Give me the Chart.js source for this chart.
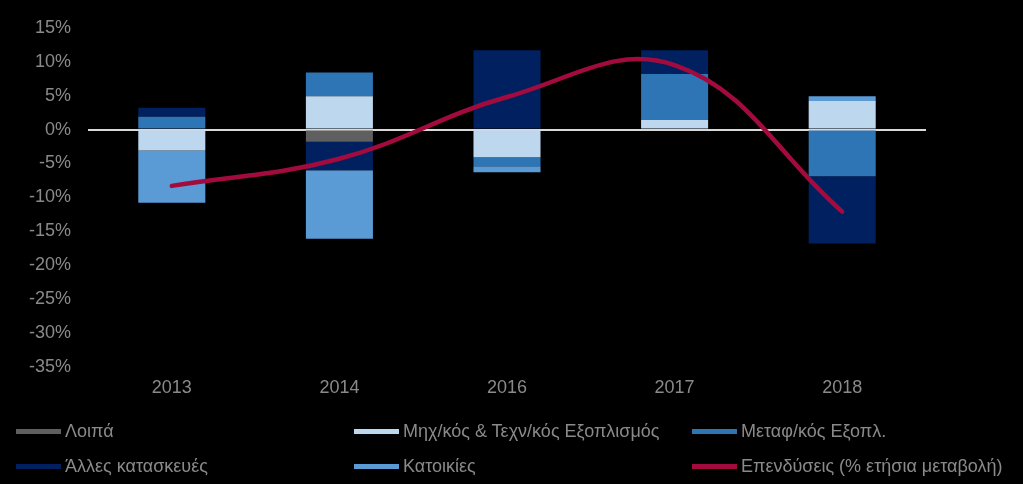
<!DOCTYPE html>
<html lang="el">
<head>
<meta charset="utf-8">
<script src="https://cdn.jsdelivr.net/npm/chart.js@4.4.1/dist/chart.umd.min.js"></script>
<style>
  html, body { margin: 0; padding: 0; background: #000; }
  #wrap { position: relative; width: 1023px; height: 484px; background: #000; overflow: hidden; }
  #grafico { position: absolute; left: 0; top: 0; }
  #legenda { position: absolute; left: 0; top: 0; width: 1023px; height: 484px; pointer-events: none; }
  .item { position: absolute; display: flex; align-items: center; height: 24px;
          font-family: "Liberation Sans", Arial, sans-serif; font-size: 18px; color: #8a8a8a; white-space: nowrap; }
  .item span.cx { display: inline-block; width: 45px; height: 5px; margin-right: 4px; }
</style>
</head>
<body>
<div id="wrap">
  <canvas id="grafico" width="1023" height="410"></canvas>
  <div id="legenda"></div>
</div>
<script>
const anos = ["2013", "2014", "2016", "2017", "2018"];

const loipa = [0, -1.8, 0, 0, 0];
const mixanologikos = [-3.1, 4.9, -4.1, 1.4, 4.2];
const metaforikos = [1.9, 3.5, -1.3, 6.8, -6.9];
const alles = [1.3, -4.2, 11.7, 3.5, -9.9];
const katoikies = [-7.7, -10.1, -0.9, 0, 0.7];
const ependyseis = [-8.3, -4.3, 4.8, 9.5, -12.1];

const corTexto = "#8a8a8a";
const fonte = { family: "'Liberation Sans', Arial, sans-serif", size: 18 };

// posicao de cada item da legenda (coluna, linha)
const posLegenda = [
  { x: 16, y: 419 }, { x: 354, y: 419 }, { x: 692, y: 419 },
  { x: 16, y: 454 }, { x: 354, y: 454 }, { x: 692, y: 454 }
];

const grafico = new Chart(document.getElementById("grafico"), {
  type: "bar",
  data: {
    labels: anos,
    datasets: [
      { label: "Λοιπά", data: loipa, backgroundColor: "#5f5f5f", order: 1 },
      { label: "Μηχ/κός & Τεχν/κός Εξοπλισμός", data: mixanologikos, backgroundColor: "#bdd7ee", order: 1 },
      { label: "Μεταφ/κός Εξοπλ.", data: metaforikos, backgroundColor: "#2e75b6", order: 1 },
      { label: "Άλλες κατασκευές", data: alles, backgroundColor: "#002060", order: 1 },
      { label: "Κατοικίες", data: katoikies, backgroundColor: "#5b9bd5", order: 1 },
      {
        type: "line",
        label: "Επενδύσεις (% ετήσια μεταβολή)",
        data: ependyseis,
        stack: "linha",
        borderColor: "#a30b3f",
        backgroundColor: "#a30b3f",
        borderWidth: 4.5,
        borderCapStyle: "round",
        pointRadius: 0,
        tension: 0.4,
        order: 0
      }
    ]
  },
  options: {
    responsive: false,
    animation: false,
    layout: { padding: { top: 25, right: 97, left: 0, bottom: 0 } },
    datasets: { bar: { categoryPercentage: 1, barPercentage: 0.4 } },
    plugins: { legend: { display: false }, tooltip: { enabled: false } },
    scales: {
      x: {
        stacked: true,
        grid: { display: false, drawTicks: false },
        border: { display: false },
        ticks: { color: corTexto, font: fonte, padding: 10 },
        afterFit: (escala) => { escala.height = 43; }
      },
      y: {
        stacked: true,
        min: -35,
        max: 15,
        grid: {
          drawTicks: false,
          lineWidth: 2,
          color: (ctx) => (ctx.tick && ctx.tick.value === 0 ? "#d9d9d9" : "rgba(0,0,0,0)")
        },
        border: { display: false },
        ticks: {
          stepSize: 5,
          color: corTexto,
          font: fonte,
          padding: 17,
          callback: (v) => v + "%"
        },
        afterFit: (escala) => { escala.width = 88; }
      }
    }
  }
});

function montarLegenda() {
  const legenda = document.getElementById("legenda");
  grafico.data.datasets.forEach((ds, i) => {
    const item = document.createElement("div");
    item.className = "item";
    item.style.left = posLegenda[i].x + "px";
    item.style.top = posLegenda[i].y + "px";
    const cx = document.createElement("span");
    cx.className = "cx";
    cx.style.background = ds.type === "line" ? ds.borderColor : ds.backgroundColor;
    item.appendChild(cx);
    item.appendChild(document.createTextNode(ds.label));
    legenda.appendChild(item);
  });
}

montarLegenda();
</script>
</body>
</html>
